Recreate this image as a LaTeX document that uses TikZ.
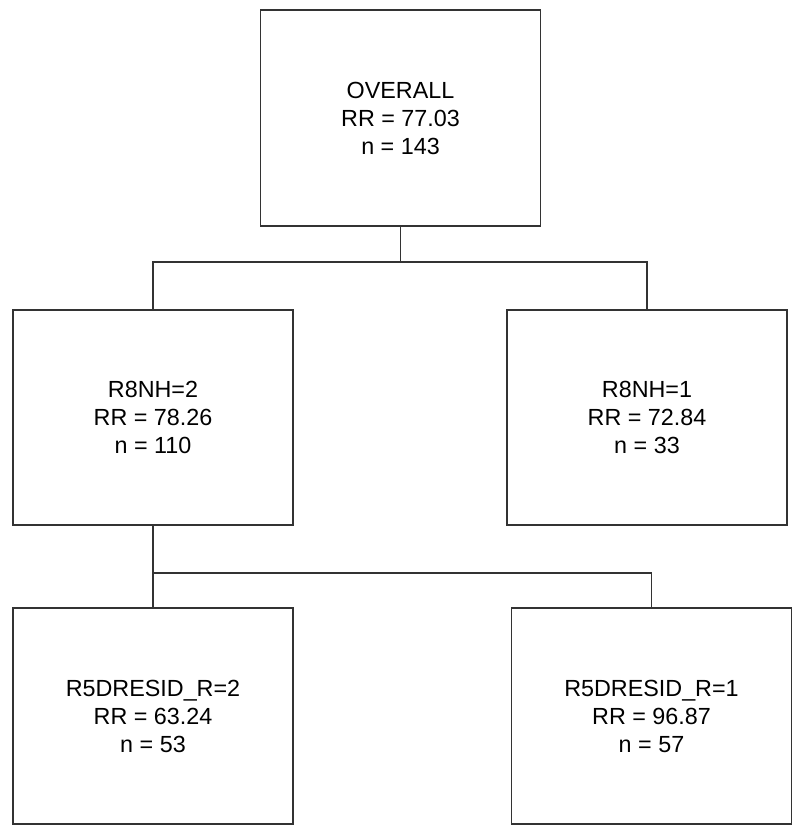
\documentclass[tikz,border=0pt]{standalone}
\usepackage{fontspec}
\setmainfont{Liberation Sans}
\usepackage{tikz}
\usetikzlibrary{positioning,calc}

\begin{document}
\begin{tikzpicture}[
    x=0.75pt,
    y=-0.75pt,
    treebox/.style={
        draw=black!80,
        line width=1.4pt,
        align=center,
        anchor=center,
        inner sep=0pt,
        minimum width=210pt,
        minimum height=161.5pt,
        font=\fontsize{17.5}{21}\selectfont
    },
    link/.style={draw=black!80, line width=1.4pt}
]
\useasboundingbox (0,0) rectangle (793,825);

% level 0
\node[treebox] (overall) at (400.5,118) {OVERALL\\RR = 77.03\\n = 143};

% level 1
\node[treebox] (nhtwo) at (153,417.5) {R8NH=2\\RR = 78.26\\n = 110};
\node[treebox] (nhone) at (647,417.5) {R8NH=1\\RR = 72.84\\n = 33};

% level 2
\node[treebox] (residtwo) at (153,716) {R5DRESID\_R=2\\RR = 63.24\\n = 53};
\node[treebox] (residone) at (651.5,716) {R5DRESID\_R=1\\RR = 96.87\\n = 57};

% connectors
\coordinate (splitA) at (400.5,262);
\coordinate (splitB) at (153,573);
\draw[link] (overall.south) -- (splitA);
\draw[link] (nhtwo.north) -- (nhtwo.north |- splitA) -- (nhone.north |- splitA) -- (nhone.north);
\draw[link] (nhtwo.south) -- (residtwo.north);
\draw[link] (splitB) -- (residone.north |- splitB) -- (residone.north);
\end{tikzpicture}
\end{document}
